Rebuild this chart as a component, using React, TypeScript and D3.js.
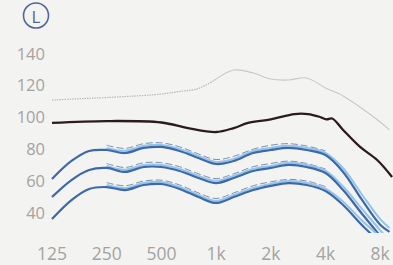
import React from "react";
import * as d3 from "d3";

const W = 393;
const H = 265;

const xTickValues = [125, 250, 500, 1000, 2000, 4000, 8000];
const xTickLabels = ["125", "250", "500", "1k", "2k", "4k", "8k"];
const yTickValues = [140, 120, 100, 80, 60, 40];

const freqs = [125, 160, 200, 250, 315, 400, 500, 630, 800, 1000, 1250, 1600, 2000, 2500, 3150, 4000, 5000, 6300, 8000, 9000];
const freqsMid = [250, 315, 400, 500, 630, 800, 1000, 1250, 1600, 2000, 2500, 3150, 4000, 5000, 6300, 8000, 9000];
const freqsDash = [250, 315, 400, 500, 630, 800, 1000, 1250, 1600, 2000, 2500, 3150, 4000];

const grayTop = [110.4, 111, 111.5, 112, 112.6, 113.3, 114.2, 115.8, 117.7, 123.6, 129.3, 127.4, 123.6, 123, 124.3, 118, 113, 105.4, 96.6, 91.6];

const blackFreqs = [125, 250, 500, 700, 1000, 1250, 1500, 2000, 2700, 3200, 3700, 4050, 4350, 5000, 6200, 7700, 9300];
const blackLine = [96, 97.2, 96.3, 92.8, 90.3, 92.8, 96, 98.2, 101.6, 101.6, 99.9, 98.2, 98.8, 91.6, 80.9, 72.7, 62];

const upperMain = [60.8, 72.1, 78.4, 79, 77.1, 80.3, 80.9, 78.4, 74, 70.2, 72.1, 77.1, 79, 80.3, 79, 75.8, 65.2, 48.2, 32, 27.5];
const upperLight = [80.3, 78.5, 81.6, 82.2, 79.7, 75.3, 71.5, 73.4, 78.4, 80.3, 81.6, 80.3, 77.2, 67.5, 51.5, 35.5, 30];
const upperDash = [82, 80, 83, 83.5, 81, 76.5, 73, 75, 79.5, 82, 83, 81.5, 78.5];

const middleMain = [49.4, 60.1, 66.4, 67.7, 65.2, 68.3, 68.3, 65.8, 61.4, 58.2, 61.4, 65.8, 67.7, 69.6, 68.3, 64.5, 53.8, 39.4, 25, 18.6];
const middleLight = [69, 66.6, 69.5, 69.6, 67.1, 62.7, 59.6, 62.7, 67.1, 69, 70.9, 69.6, 66, 56, 42.5, 28.5, 22];
const middleDash = [70.5, 68, 71, 71, 68.5, 64, 61, 64, 68.5, 70.5, 72, 70.5, 67];

const lowerMain = [35.6, 47.5, 54.5, 55.7, 53.8, 57, 57.6, 54.5, 49.4, 45.7, 49.4, 53.8, 56.4, 58.2, 57, 53.2, 44.4, 32.1, 20.5, 13];
const lowerLight = [57, 55.1, 58.3, 58.9, 55.8, 50.7, 47, 50.7, 55.1, 57.7, 59.5, 58.3, 54.7, 46.5, 35, 24, 16.5];
const lowerDash = [58.5, 56.5, 59.5, 60, 57, 52, 48.5, 52, 56.5, 59, 60.5, 59.5, 56];

const x = d3.scaleLog().base(2).domain([125, 8000]).range([52, 380.2]);
const y = d3.scaleLinear().domain([40, 140]).range([212, 53]);

function pathOf(fs: number[], vs: number[]) {
  const gen = d3
    .line<[number, number]>()
    .x((d) => x(d[0]))
    .y((d) => y(d[1]))
    .curve(d3.curveCatmullRom.alpha(0.5));
  return gen(fs.map((f, i) => [f, vs[i]] as [number, number])) || "";
}

const groups = [
  { main: upperMain, light: upperLight, dash: upperDash },
  { main: middleMain, light: middleLight, dash: middleDash },
  { main: lowerMain, light: lowerLight, dash: lowerDash },
];

export default function App() {
  const font = "'Open Sans', 'Noto Sans', sans-serif";
  const splitIdx = 9;
  return (
    <svg
      width={W}
      height={H}
      style={{ position: "fixed", left: 0, top: 0 }}
      xmlns="http://www.w3.org/2000/svg"
    >
      <defs>
        <clipPath id="plotclip">
          <rect x={0} y={0} width={W} height={233} />
        </clipPath>
      </defs>
      <rect x={0} y={0} width={W} height={H} fill="#f3f3f1" />

      <circle cx={36} cy={15.5} r={12.5} fill="none" stroke="#56649a" strokeWidth={1.6} />
      <text x={36} y={16} textAnchor="middle" dominantBaseline="central" fontFamily={font} fontSize={17} fill="#56649a">
        L
      </text>

      {yTickValues.map((v) => (
        <text key={v} x={45} y={y(v)} textAnchor="end" dominantBaseline="central" fontFamily={font} fontSize={16.5} fill="#a3a3a3">
          {v}
        </text>
      ))}
      {xTickValues.map((f, i) => (
        <text key={f} x={x(f)} y={260} textAnchor="middle" fontFamily={font} fontSize={17.5} fill="#a3a3a3">
          {xTickLabels[i]}
        </text>
      ))}

      <path
        d={pathOf(freqs.slice(0, splitIdx + 1), grayTop.slice(0, splitIdx + 1))}
        fill="none"
        stroke="#b8b8b8"
        strokeWidth={1.2}
        strokeDasharray="1.5 1"
      />
      <path
        d={pathOf(freqs.slice(splitIdx), grayTop.slice(splitIdx))}
        fill="none"
        stroke="#c8c8c8"
        strokeWidth={1.1}
      />

      <path d={pathOf(blackFreqs, blackLine)} fill="none" stroke="#2a1c1c" strokeWidth={2.3} />

      <g clipPath="url(#plotclip)">
        {groups.map((g, i) => (
          <g key={i}>
            <path d={pathOf(freqsDash, g.dash)} fill="none" stroke="#7f90b0" strokeWidth={1} strokeDasharray="7 3" />
            <path d={pathOf(freqsMid, g.light)} fill="none" stroke="#92c4ec" strokeWidth={2} />
            <path d={pathOf(freqs, g.main)} fill="none" stroke="#3d69a8" strokeWidth={2.2} />
          </g>
        ))}
      </g>
    </svg>
  );
}
